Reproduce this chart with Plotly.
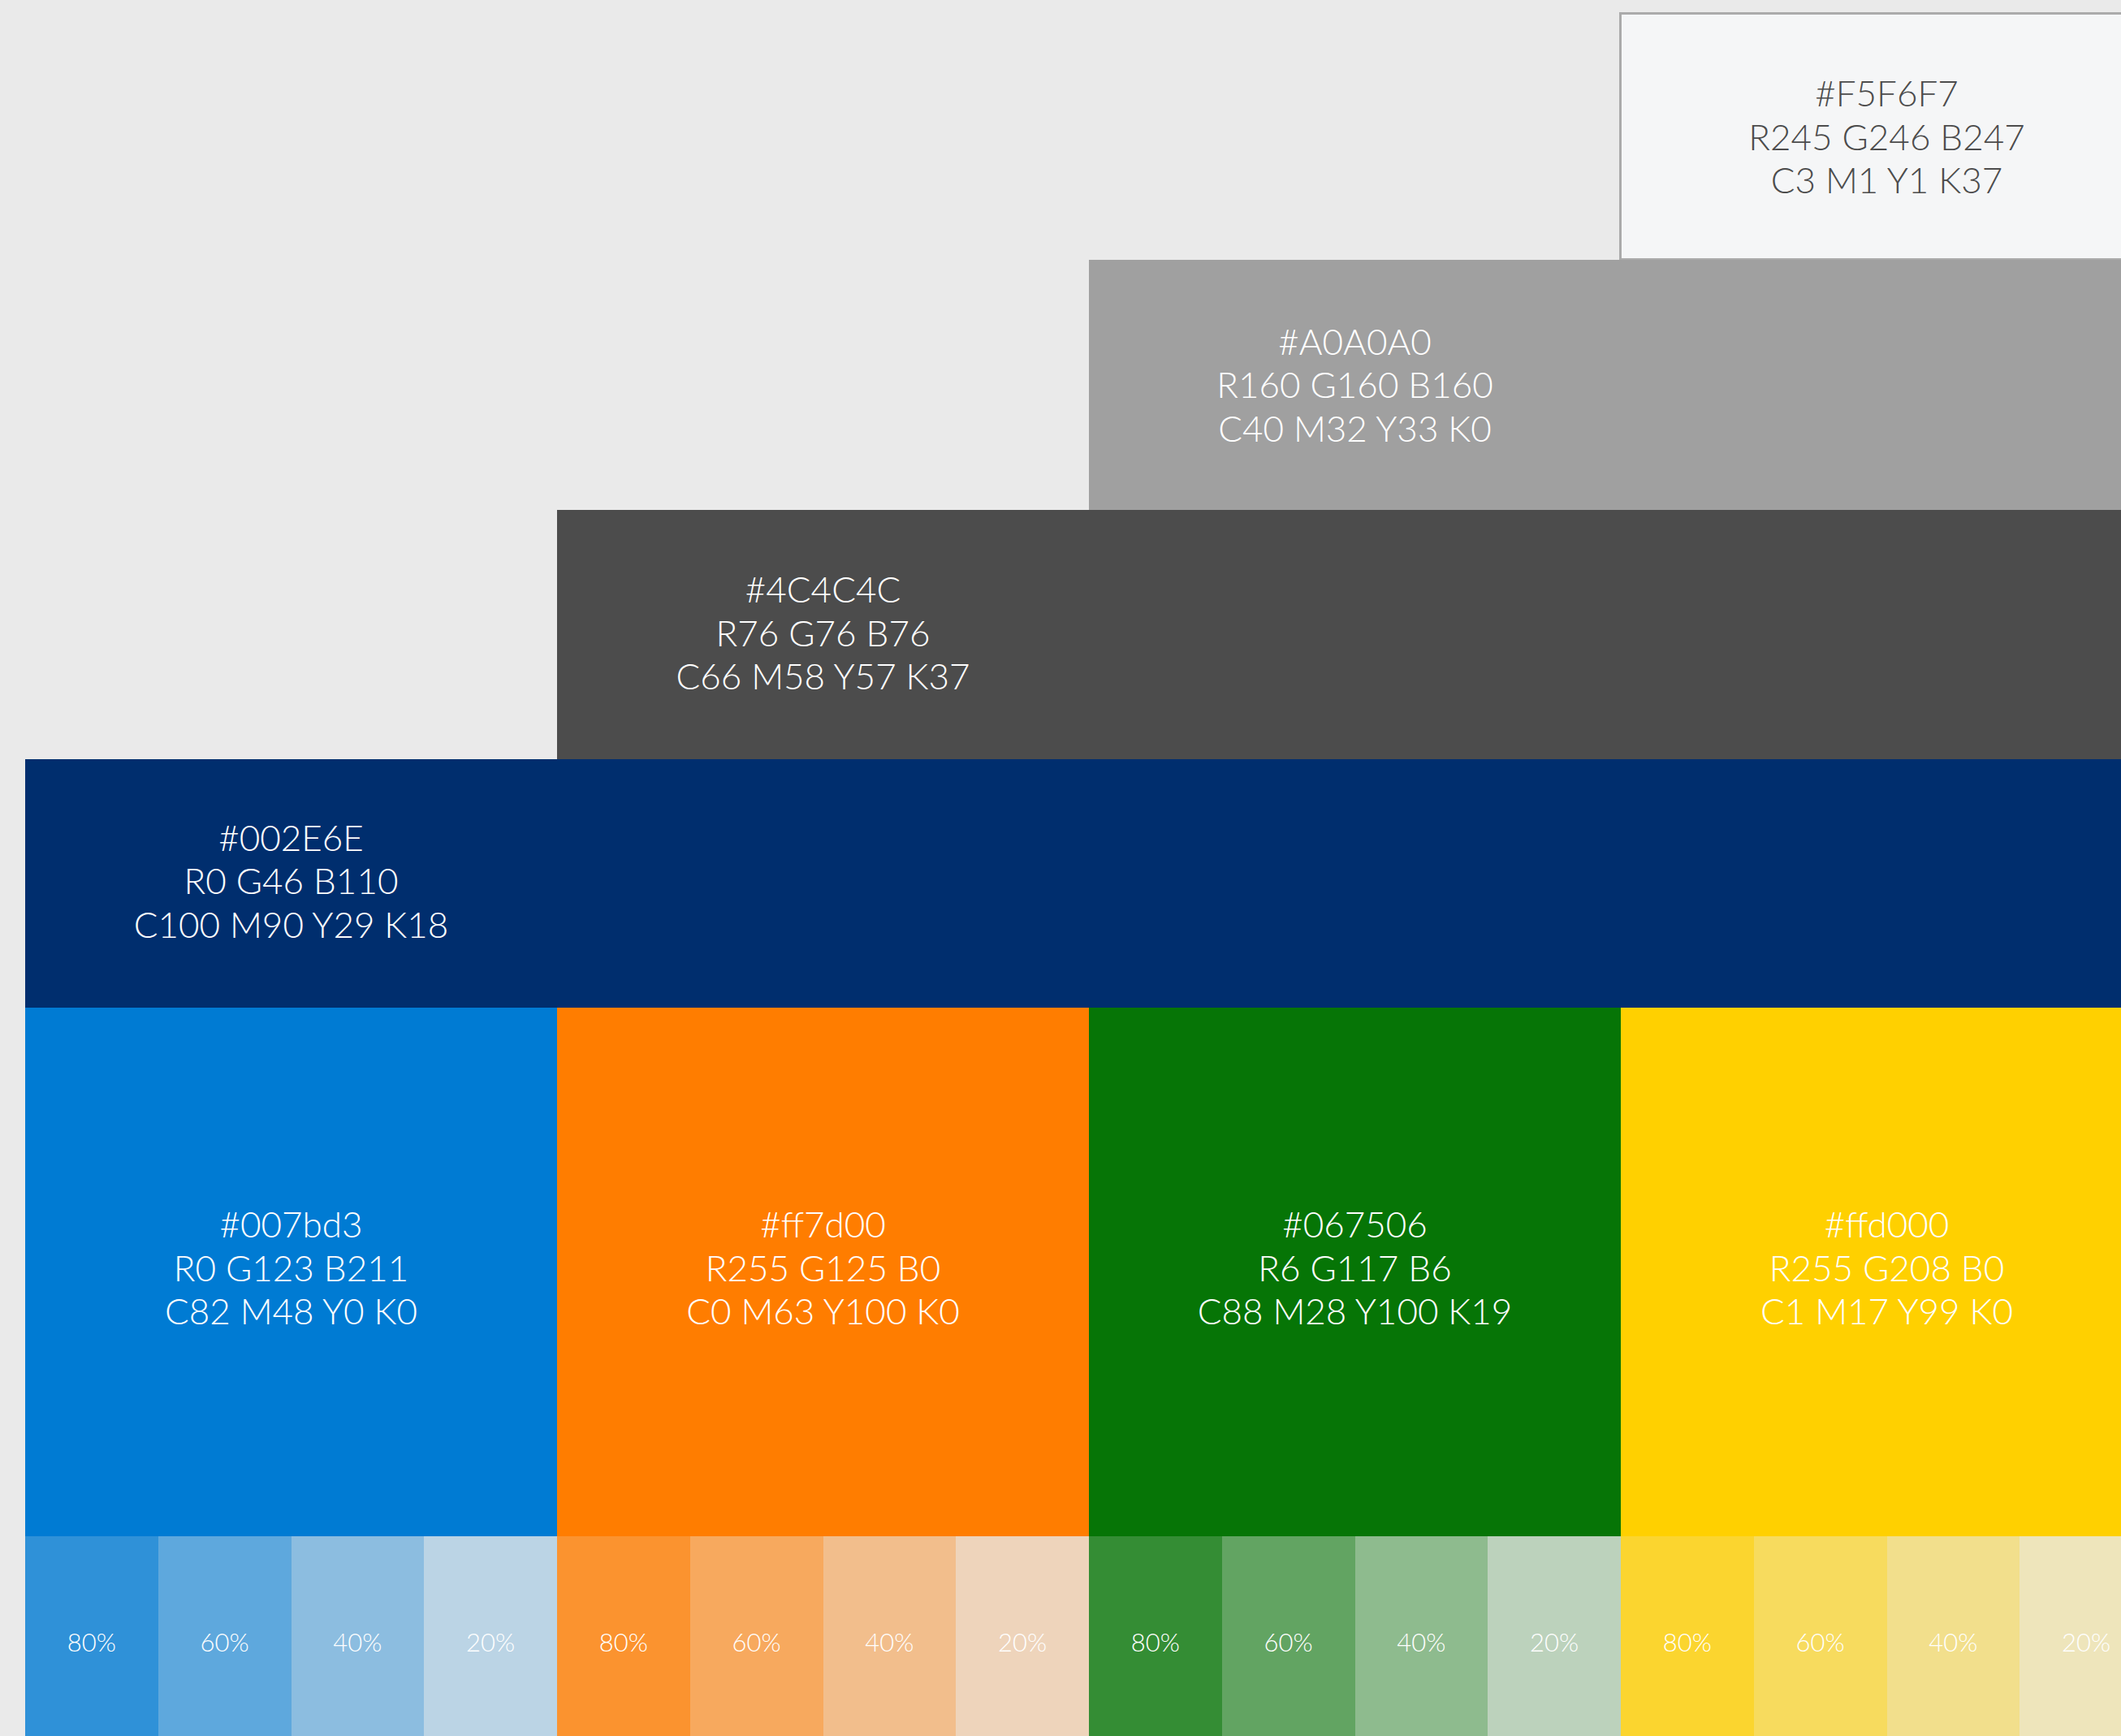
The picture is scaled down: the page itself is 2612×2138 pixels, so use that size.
import plotly.graph_objects as go

# ---------------- data ----------------
stair_hex = ["#F5F6F7", "#A0A0A0", "#4C4C4C", "#002E6E"]
stair_rgb = ["R245 G246 B247", "R160 G160 B160", "R76 G76 B76", "R0 G46 B110"]
stair_cmyk = ["C3 M1 Y1 K37", "C40 M32 Y33 K0", "C66 M58 Y57 K37", "C100 M90 Y29 K18"]
stair_text_color = ["#4C4C4C", "#FFFFFF", "#FFFFFF", "#FFFFFF"]

main_hex = ["#007bd3", "#ff7d00", "#067506", "#ffd000"]
main_rgb = ["R0 G123 B211", "R255 G125 B0", "R6 G117 B6", "R255 G208 B0"]
main_cmyk = ["C82 M48 Y0 K0", "C0 M63 Y100 K0", "C88 M28 Y100 K19", "C1 M17 Y99 K0"]

tint_pcts = [80, 60, 40, 20]

# ---------------- layout geometry ----------------
W, H = 2612, 2138
BG = "#EAEAEA"
col_left = 31
col_w = 655
stair_tops = [17, 320, 628, 935]
stair_bottoms = [320, 628, 935, 1241]
stair_text_dy = [5, 5, 3, 2]
stair_start_col = [3, 2, 1, 0]
main_top, main_bot = 1241, 1892
tint_top, tint_bot = 1892, 2160
line_gap = 53.5
FONT = "Lato"

bx, by, bbase, bw, bcol, bop, blw, blc = [], [], [], [], [], [], [], []

def add_block(x0, x1, y0, y1, color, op=1.0, lw=0, lc="rgba(0,0,0,0)"):
    bx.append((x0 + x1) / 2)
    bw.append(x1 - x0)
    bbase.append(y0)
    by.append(y1 - y0)
    bcol.append(color)
    bop.append(op)
    blw.append(lw)
    blc.append(lc)

tx, ty, tt, tc = [], [], [], []
sx, sy, st = [], [], []

for i, hx in enumerate(stair_hex):
    x0 = col_left + stair_start_col[i] * col_w
    add_block(x0, W + 40, stair_tops[i], stair_bottoms[i], hx,
              lw=3 if i == 0 else 0, lc="#ABABAB" if i == 0 else "rgba(0,0,0,0)")
    cx = x0 + col_w / 2
    cy = (stair_tops[i] + stair_bottoms[i]) / 2 + stair_text_dy[i]
    for k, s in enumerate([hx, stair_rgb[i], stair_cmyk[i]]):
        tx.append(cx)
        ty.append(cy + (k - 1) * line_gap)
        tt.append(s)
        tc.append(stair_text_color[i])

for j, hx in enumerate(main_hex):
    x0 = col_left + j * col_w
    add_block(x0, x0 + col_w, main_top, main_bot, hx)
    cx = x0 + col_w / 2
    cy = (main_top + main_bot) / 2
    for k, s in enumerate([hx, main_rgb[j], main_cmyk[j]]):
        tx.append(cx)
        ty.append(cy + (k - 1) * line_gap)
        tt.append(s)
        tc.append("#FFFFFF")
    tw = col_w / len(tint_pcts)
    for m, p in enumerate(tint_pcts):
        t0 = x0 + m * tw
        add_block(t0, t0 + tw, tint_top, tint_bot, hx, op=p / 100)
        sx.append(t0 + tw / 2)
        sy.append((tint_top + tint_bot) / 2)
        st.append(f"{p}%")

fig = go.Figure()
fig.add_trace(go.Bar(
    x=bx, y=by, base=bbase, width=bw,
    marker=dict(color=bcol, opacity=bop, line=dict(width=blw, color=blc)),
    hoverinfo="skip", showlegend=False,
))
fig.add_trace(go.Scatter(
    x=tx, y=ty, text=tt, mode="text", textposition="middle center",
    textfont=dict(family=FONT, size=44, color=tc, weight=300),
    hoverinfo="skip", showlegend=False,
))
fig.add_trace(go.Scatter(
    x=sx, y=sy, text=st, mode="text", textposition="middle center",
    textfont=dict(family=FONT, size=31, color="#FFFFFF", weight=300),
    hoverinfo="skip", showlegend=False,
))

fig.update_layout(
    width=W, height=H,
    margin=dict(l=0, r=0, t=0, b=0, pad=0),
    paper_bgcolor=BG, plot_bgcolor=BG,
    barmode="overlay", bargap=0,
    xaxis=dict(range=[0, W], visible=False, fixedrange=True),
    yaxis=dict(range=[H, 0], visible=False, fixedrange=True),
    showlegend=False,
)

fig.write_html(
    "out.html",
    config={"displayModeBar": False},
    post_script="document.body.style.margin='0';document.body.style.background='#EAEAEA';document.body.style.overflow='hidden';",
)
